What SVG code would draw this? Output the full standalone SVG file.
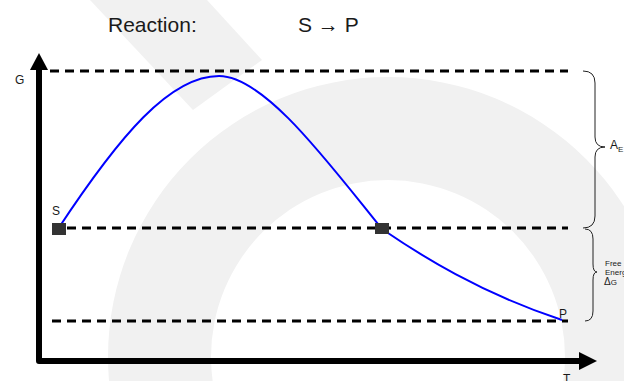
<svg xmlns="http://www.w3.org/2000/svg" width="624" height="381" viewBox="0 0 624 381">
  <defs>
    <style>
      text { font-family: "Liberation Sans", Arial, sans-serif; fill: #1a1a1a; }
      .title { font-size: 21px; }
      .lbl { font-size: 12px; }
      .small { font-size: 8px; }
      .dash { stroke: #000; stroke-width: 3; stroke-dasharray: 9 6; fill: none; }
      .brace { stroke: #222; stroke-width: 1; fill: none; }
      .sq { fill: #333; }
      .wm { fill: #f1f1f1; }
    </style>
  </defs>
  <rect width="624" height="381" fill="#fff"/>
  <g id="watermark">
    <path class="wm" fill-rule="evenodd" d="M108,357 A280,280 0 0 1 668,357 A280,280 0 0 1 108,357 Z M211,357 A177,177 0 0 0 565,357 A177,177 0 0 0 211,357 Z"/>
    <polygon class="wm" points="90,0 207,0 262,60 193,110"/>
  </g>
  <g id="title">
    <text class="title" x="108" y="32">Reaction:</text>
    <text class="title" x="298" y="32">S → P</text>
  </g>
  <g id="axes">
    <polyline points="39,66 39,361 580,361" fill="none" stroke="#000" stroke-width="6" stroke-linejoin="round"/>
    <polygon points="39,53 30,70 48,70" fill="#000"/>
    <polygon points="597,361 579,352 579,370" fill="#000"/>
    <text class="lbl" x="15" y="84">G</text>
    <text class="lbl" x="563" y="383">T</text>
  </g>
  <g id="levels">
    <line class="dash" x1="50" y1="71" x2="568" y2="71"/>
    <line class="dash" x1="52" y1="228" x2="568" y2="228"/>
    <line class="dash" x1="52" y1="321" x2="568" y2="321"/>
  </g>
  <g id="connectors">
    <path d="M58,229 C120,135 170,76 219,76 C265,76 330,165 382,229 C420,255 480,293 562,320" fill="none" stroke="#0000ff" stroke-width="2"/>
  </g>
  <g id="node-S">
    <rect class="sq" x="52" y="223" width="14" height="12"/>
    <text class="lbl" x="52" y="215">S</text>
  </g>
  <g id="node-mid">
    <rect class="sq" x="375" y="223" width="14" height="11"/>
  </g>
  <g id="node-P">
    <text class="lbl" x="559" y="318">P</text>
  </g>
  <g id="brace-AE">
    <path class="brace" d="M583,71 Q595,71 595,83 L595,137 Q595,147 605,147 Q595,147 595,157 L595,216 Q595,228 583,228"/>
    <text class="lbl" x="610" y="149">A<tspan class="small" dy="3">E</tspan></text>
  </g>
  <g id="brace-dG">
    <path class="brace" d="M585,229 Q593,229 593,239 L593,264 Q593,272 597,272 Q593,272 593,280 L593,311 Q593,321 585,321"/>
    <text class="small" x="605" y="266">Free</text>
    <text class="small" x="605" y="275">Energy</text>
    <text class="small" x="604" y="285"><tspan font-size="10">Δ</tspan>G</text>
  </g>
</svg>
